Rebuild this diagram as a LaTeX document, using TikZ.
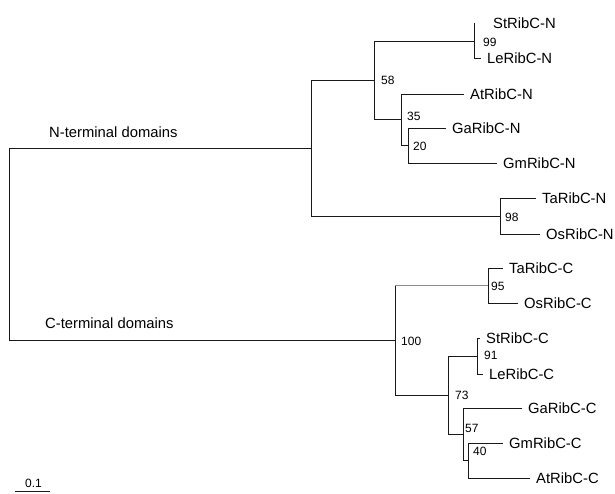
\documentclass[tikz,border=0pt]{standalone}
\usepackage{fontspec}
\setmainfont{Liberation Sans}

\tikzset{
  branch/.style={line width=0.95pt, draw=black!90},
  leaf/.style={anchor=west, inner xsep=6pt, inner ysep=0pt, text height=10.6pt,
    text depth=0pt, font=\fontsize{14.8}{17}\selectfont},
  boot/.style={anchor=west, inner sep=0pt, text height=8.6pt, text depth=0pt,
    font=\fontsize{12}{14}\selectfont},
  grouplabel/.style={anchor=west, inner sep=0pt, text height=10.6pt, text depth=0pt,
    font=\fontsize{14.8}{17}\selectfont}
}

\begin{document}
\begin{tikzpicture}[x=1pt, y=-1pt]
  \useasboundingbox (0,0) rectangle (615,493);

  % Define nodes
  \coordinate (root) at (9,244);
  \coordinate (nN)   at (311,148);
  \coordinate (nA)   at (374,80);
  \coordinate (nSL)  at (474,41);
  \coordinate (nB)   at (401,119.5);
  \coordinate (nGG)  at (408,145.5);
  \coordinate (nTO)  at (500,216);
  \coordinate (nC)   at (395,340.5);
  \coordinate (nTOc) at (488,285.5);
  \coordinate (nF)   at (448,395);
  \coordinate (nSLc) at (477,356);
  \coordinate (nH)   at (463,434);
  \coordinate (nGA)  at (468,460.5);

  \node[leaf, inner xsep=19pt] (StN) at (474,23) {StRibC-N};
  \node[leaf] (LeN) at (481,58)  {LeRibC-N};
  \node[leaf] (AtN) at (464,94)  {AtRibC-N};
  \node[leaf] (GaN) at (446,128) {GaRibC-N};
  \node[leaf] (GmN) at (497,163) {GmRibC-N};
  \node[leaf] (TaN) at (536,198) {TaRibC-N};
  \node[leaf] (OsN) at (540,234) {OsRibC-N};
  \node[leaf] (TaC) at (503,268) {TaRibC-C};
  \node[leaf] (OsC) at (518,303) {OsRibC-C};
  \node[leaf] (StC) at (480,338) {StRibC-C};
  \node[leaf] (LeC) at (483,374) {LeRibC-C};
  \node[leaf] (GaC) at (522,408) {GaRibC-C};
  \node[leaf] (GmC) at (503,443) {GmRibC-C};
  \node[leaf] (AtC) at (530,478) {AtRibC-C};

  % Bootstrap values
  \node[boot] (b99)  at (483,42)  {99};
  \node[boot] (b58)  at (381,80)  {58};
  \node[boot] (b35)  at (407,116) {35};
  \node[boot] (b20)  at (413,146) {20};
  \node[boot] (b98)  at (505,217) {98};
  \node[boot] (b95)  at (491,286) {95};
  \node[boot] (b100) at (401,341) {100};
  \node[boot] (b91)  at (484,355) {91};
  \node[boot] (b73)  at (455,395) {73};
  \node[boot] (b57)  at (465,428) {57};
  \node[boot] (b40)  at (473,451) {40};

  \node[grouplabel] (gN) at (49,132)   {N-terminal domains};
  \node[grouplabel] (gC) at (45,323.5) {C-terminal domains};

  % Connect the nodes
  \draw[branch] (root) |- (nN)  (root) |- (nC);
  \draw[branch] (nN) |- (nA)    (nN) |- (nTO);
  \draw[branch] (nA) |- (nSL)   (nA) |- (nB);
  \draw[branch] (nSL) |- (StN)  (nSL) |- (LeN);
  \draw[branch] (nB) |- (AtN)   (nB) |- (nGG);
  \draw[branch] (nGG) |- (GaN)  (nGG) |- (GmN);
  \draw[branch] (nTO) |- (TaN)  (nTO) |- (OsN);
  \draw[branch] (nC) |- (nTOc)  (nC) |- (nF);
  \draw[branch, draw=black!45] (nC |- nTOc) -- (nTOc);
  \draw[branch] (nTOc) |- (TaC) (nTOc) |- (OsC);
  \draw[branch] (nF) |- (nSLc)  (nF) |- (nH);
  \draw[branch] (nSLc) |- (StC) (nSLc) |- (LeC);
  \draw[branch] (nH) |- (GaC)   (nH) |- (nGA);
  \draw[branch] (nGA) |- (GmC)  (nGA) |- (AtC);

  % Scale bar
  \coordinate (s0) at (15,491);
  \coordinate (s1) at (50,491);
  \draw[branch] (s0) -- (s1);
  \node[boot, anchor=center] (scale) at (33.5,483) {0.1};

\end{tikzpicture}
\end{document}
